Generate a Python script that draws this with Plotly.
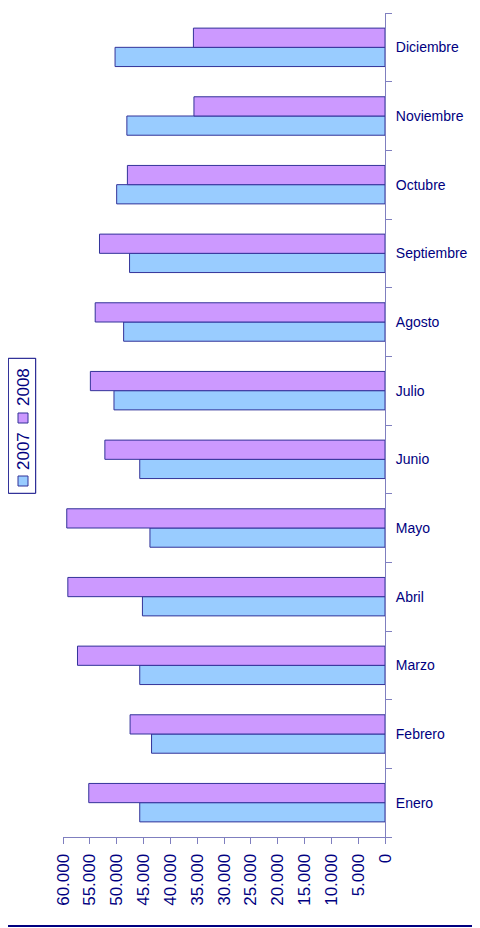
import plotly.graph_objects as go

months = ["Enero", "Febrero", "Marzo", "Abril", "Mayo", "Junio", "Julio",
          "Agosto", "Septiembre", "Octubre", "Noviembre", "Diciembre"]
v2007 = [45700, 43500, 45700, 45200, 43800, 45700, 50500, 48700, 47600, 50000, 48100, 50300]
v2008 = [55200, 47500, 57300, 59100, 59300, 52200, 54900, 54000, 53200, 48000, 35600, 35700]
x_ticks = list(range(0, 60001, 5000))

OFF = 8  # default page body margin
W, H = 480 - OFF, 928 - OFF
ML, MT = 63 - OFF, 13 - OFF
MR = W - (385 - OFF)
MB = H - (837 - OFF)
PW, PH = W - ML - MR, H - MT - MB


def px(x):
    return (x - OFF - ML) / PW


def py(y):
    return (H - MB - (y - OFF)) / PH


NAVY = "#000080"
AX = "#7f7fbf"
EDGE = "#333399"
C07 = "#99ccff"
C08 = "#cc99ff"

fig = go.Figure()
fig.add_trace(go.Bar(y=months, x=v2007, orientation="h", name="2007",
                     marker=dict(color=C07, line=dict(color=EDGE, width=1))))
fig.add_trace(go.Bar(y=months, x=v2008, orientation="h", name="2008",
                     marker=dict(color=C08, line=dict(color=EDGE, width=1))))

fig.update_layout(
    width=W, height=H,
    margin=dict(l=ML, r=MR, t=MT, b=MB),
    paper_bgcolor="white", plot_bgcolor="white",
    barmode="group", bargap=0.44, bargroupgap=0,
    showlegend=False,
    separators=",.",
    font=dict(family="Arial, Liberation Sans, sans-serif", color=NAVY),
    xaxis=dict(range=[60000, 0], tickvals=x_ticks, tickformat=",d",
               tickangle=-90, ticks="outside", ticklen=6, tickcolor=AX,
               ticklabelstandoff=3,
               showline=True, linecolor=AX, linewidth=1, showgrid=False,
               zeroline=False, tickfont=dict(size=17, color=NAVY)),
    yaxis=dict(side="right", type="category", categoryorder="array",
               categoryarray=months, tickson="boundaries", ticks="outside",
               ticklen=6, tickcolor=AX, ticklabelstandoff=7,
               showline=True, linecolor=AX,
               linewidth=1, showgrid=False, zeroline=False,
               tickfont=dict(size=14, color=NAVY)),
)

shapes = []
# legend box
shapes.append(dict(type="rect", xref="paper", yref="paper",
                   x0=px(8.3), x1=px(35.7), y0=py(493.3), y1=py(358.3),
                   line=dict(color=NAVY, width=1), fillcolor="white"))
shapes.append(dict(type="rect", xref="paper", yref="paper",
                   x0=px(18), x1=px(28), y0=py(486), y1=py(476),
                   line=dict(color=EDGE, width=1), fillcolor=C07))
shapes.append(dict(type="rect", xref="paper", yref="paper",
                   x0=px(18), x1=px(28), y0=py(423), y1=py(413),
                   line=dict(color=EDGE, width=1), fillcolor=C08))
# bottom border line
shapes.append(dict(type="line", xref="paper", yref="paper",
                   x0=px(OFF), x1=px(480), y0=py(926), y1=py(926),
                   line=dict(color=NAVY, width=2)))
fig.update_layout(shapes=shapes)

fig.add_annotation(x=px(23), y=py(451), xref="paper", yref="paper",
                   text="2007", textangle=-90, showarrow=False,
                   xanchor="center", yanchor="middle",
                   font=dict(size=17, color=NAVY))
fig.add_annotation(x=px(23), y=py(387), xref="paper", yref="paper",
                   text="2008", textangle=-90, showarrow=False,
                   xanchor="center", yanchor="middle",
                   font=dict(size=17, color=NAVY))

fig.write_html("out.html")
